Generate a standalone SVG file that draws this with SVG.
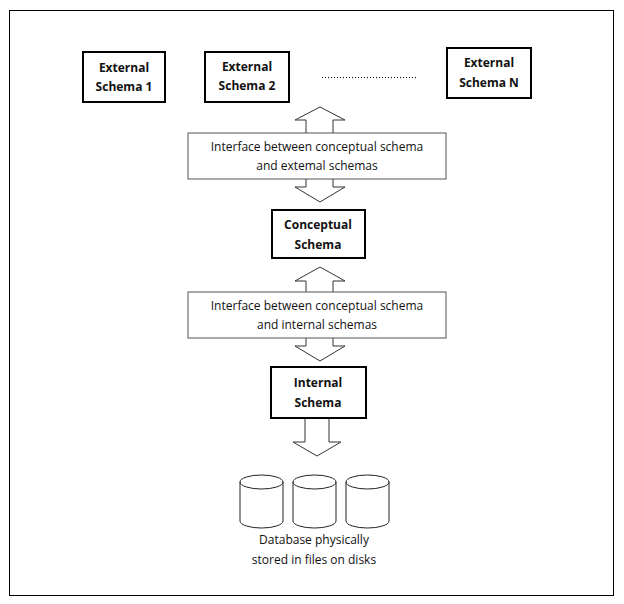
<svg xmlns="http://www.w3.org/2000/svg" width="624" height="604" viewBox="0 0 624 604">
<style>
.box{fill:#fff;stroke:#000;stroke-width:2}
.ibox{fill:#fff;stroke:#555;stroke-width:1}
.arr{fill:#fff;stroke:#333;stroke-width:1}
.cyl{fill:#fff;stroke:#222;stroke-width:1}
text{font-family:"Open Sans","Liberation Sans",sans-serif;font-size:12px;fill:#111;text-anchor:middle}
.b{font-weight:bold}
</style>
<rect width="624" height="604" fill="#fff"/>
<rect x="9.5" y="10.5" width="604" height="585" fill="none" stroke="#000"/>
<g id="ext1"><rect class="box" x="83" y="52" width="82" height="50"/><text class="b" x="124" y="72">External</text><text class="b" x="124" y="91">Schema 1</text></g>
<g id="ext2"><rect class="box" x="205" y="52" width="84" height="50"/><text class="b" x="247" y="71">External</text><text class="b" x="247" y="90">Schema 2</text></g>
<g id="extN"><rect class="box" x="447" y="48" width="84" height="50"/><text class="b" x="489" y="67">External</text><text class="b" x="489" y="87">Schema N</text></g>
<g id="connectors">
<line x1="322" y1="77.5" x2="416" y2="77.5" stroke="#000" stroke-dasharray="1,2"/>
<polygon class="arr" points="320,107 345,120 333,120 333,187 345,187 320,202 295,187 306,187 306,120 295,120"/>
<polygon class="arr" points="320,267 345,281 333,281 333,346 345,346 320,361 295,346 306,346 306,281 295,281"/>
<polygon class="arr" points="305,418 329,418 329,442 341,442 317,456 293,442 305,442"/>
</g>
<g id="iface1"><rect class="ibox" x="188" y="133" width="258" height="46"/><text x="317" y="151">Interface between conceptual schema</text><text x="317" y="170">and extemal schemas</text></g>
<g id="concept"><rect class="box" x="272" y="210" width="93" height="48"/><text class="b" x="318" y="229">Conceptual</text><text class="b" x="318" y="249">Schema</text></g>
<g id="iface2"><rect class="ibox" x="188" y="292" width="258" height="46"/><text x="317" y="310">Interface between conceptual schema</text><text x="317" y="329">and internal schemas</text></g>
<g id="internal"><rect class="box" x="271" y="367" width="95" height="51"/><text class="b" x="318" y="387">Internal</text><text class="b" x="318" y="407">Schema</text></g>
<g id="db">
<path class="cyl" d="M240,482 v39 a21.5,7 0 0 0 43,0 v-39 a21.5,7 0 0 0 -43,0 a21.5,7 0 0 0 43,0"/>
<path class="cyl" d="M293,482 v39 a21.5,7 0 0 0 43,0 v-39 a21.5,7 0 0 0 -43,0 a21.5,7 0 0 0 43,0"/>
<path class="cyl" d="M346,482 v39 a21.5,7 0 0 0 43,0 v-39 a21.5,7 0 0 0 -43,0 a21.5,7 0 0 0 43,0"/>
<text x="314" y="544">Database physically</text><text x="314" y="564">stored in files on disks</text>
</g>
</svg>
